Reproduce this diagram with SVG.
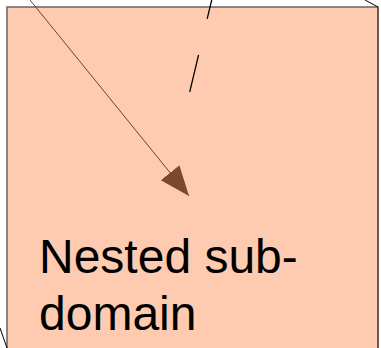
<svg xmlns="http://www.w3.org/2000/svg" width="381" height="348" viewBox="0 0 381 348">
<defs>
<style>
.lbl{font-family:"Liberation Sans",Arial,sans-serif;font-size:48px;fill:#000}
.thin{stroke:#000;stroke-width:1;fill:none}
</style>
<marker id="ah" markerUnits="userSpaceOnUse" markerWidth="40" markerHeight="40" refX="30" refY="12" orient="auto">
<path d="M0,0 L30,12 L0,24 Z" fill="#7b4a2e"/>
</marker>
</defs>
<g id="subdomain">
<rect x="7" y="7" width="371" height="360" fill="#ffcbb0" stroke="#666" stroke-width="1.5"/>
<line x1="378" y1="7" x2="378" y2="348" stroke="#6b5a55" stroke-width="2"/>
<text class="lbl" x="39" y="273">Nested sub-</text>
<text class="lbl" x="39" y="330">domain</text>
</g>
<g id="connectors">
<line x1="30" y1="0" x2="189" y2="196" stroke="#6e4228" stroke-width="1" marker-end="url(#ah)"/>
<line x1="216" y1="-18" x2="189" y2="95" stroke="#000" stroke-width="1.3" stroke-dasharray="38,37"/>
<line x1="365" y1="0" x2="378" y2="7" class="thin"/>
<line x1="0" y1="328" x2="7" y2="348" class="thin"/>
</g>
</svg>
